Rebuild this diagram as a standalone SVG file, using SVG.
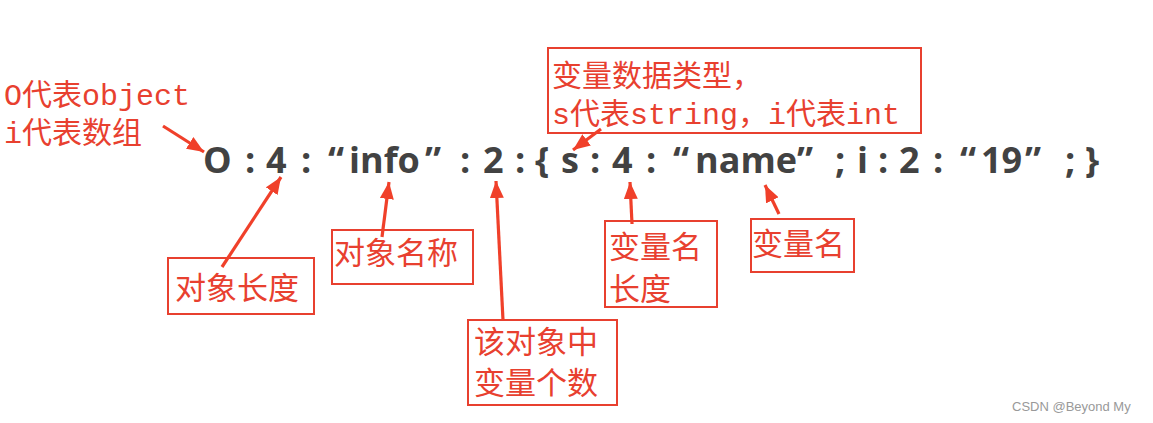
<svg xmlns="http://www.w3.org/2000/svg" width="1153" height="423" viewBox="0 0 1153 423">
<style>
.main{font-family:"Open Sans","Liberation Sans",sans-serif;font-weight:bold;font-size:36px;fill:#424242}
.red{font-family:"Liberation Mono","Noto Sans CJK SC",monospace;font-size:30px;fill:#e8402f}
.lbl{font-family:"Noto Sans CJK SC",sans-serif;font-size:31px;fill:#e8402f}
.box{fill:none;stroke:#e8402f;stroke-width:2}
.arr{stroke:#f0402a;stroke-width:3.2;fill:none;marker-end:url(#ah)}
.wm{font-family:"Liberation Sans",sans-serif;font-size:13px;fill:#999}
</style>
<defs>
<marker id="ah" markerUnits="userSpaceOnUse" markerWidth="18" markerHeight="14" refX="17" refY="7" orient="auto">
<path d="M0,0 L17,7 L0,14 z" fill="#f0402a"/>
</marker>
</defs>
<rect width="1153" height="423" fill="#fff"/>
<g id="formula">
<text class="main" x="203" y="173">O</text>
<text class="main" x="245" y="173">:</text>
<text class="main" x="266" y="173">4</text>
<text class="main" x="301" y="173">:</text>
<text class="main" x="328" y="173">“</text>
<text class="main" x="349" y="173">info</text>
<text class="main" x="425" y="173">”</text>
<text class="main" x="460" y="173">:</text>
<text class="main" x="483" y="173">2</text>
<text class="main" x="515" y="173">:</text>
<text class="main" x="535" y="173">{</text>
<text class="main" x="561" y="173">s</text>
<text class="main" x="590" y="173">:</text>
<text class="main" x="612" y="173">4</text>
<text class="main" x="646" y="173">:</text>
<text class="main" x="673" y="173">“</text>
<text class="main" x="695" y="173">name</text>
<text class="main" x="797" y="173">”</text>
<text class="main" x="835" y="173">;</text>
<text class="main" x="857" y="173">i</text>
<text class="main" x="878" y="173">:</text>
<text class="main" x="899" y="173">2</text>
<text class="main" x="933" y="173">:</text>
<text class="main" x="960" y="173">“</text>
<text class="main" x="981" y="173">19</text>
<text class="main" x="1025" y="173">”</text>
<text class="main" x="1065" y="173">;</text>
<text class="main" x="1085" y="173">}</text>
</g>
<g id="label-object">
<text class="red" x="4" y="105">O代表object<tspan x="4" y="143">i代表数组</tspan></text>
</g>
<g id="label-type">
<rect class="box" x="548" y="48" width="373" height="85"/>
<text class="red" x="552" y="86">变量数据类型，<tspan x="552" y="124">s代表string，i代表int</tspan></text>
</g>
<g id="label-objlen">
<rect class="box" x="168" y="258" width="146" height="56"/>
<text class="lbl" x="175" y="299">对象长度</text>
</g>
<g id="label-objname">
<rect class="box" x="332" y="230" width="141" height="54"/>
<text class="lbl" x="334" y="264">对象名称</text>
</g>
<g id="label-count">
<rect class="box" x="468" y="320" width="149" height="85"/>
<text class="lbl" x="474" y="353">该对象中<tspan x="474" y="394">变量个数</tspan></text>
</g>
<g id="label-varlen">
<rect class="box" x="605" y="221" width="112" height="86"/>
<text class="lbl" x="609" y="258">变量名<tspan x="609" y="300">长度</tspan></text>
</g>
<g id="label-varname">
<rect class="box" x="751" y="219" width="103" height="53"/>
<text class="lbl" x="752" y="255">变量名</text>
</g>
<g id="connectors">
<line class="arr" x1="163" y1="126" x2="204" y2="152"/>
<line class="arr" x1="222" y1="267" x2="281" y2="177"/>
<line class="arr" x1="382" y1="237" x2="389" y2="182"/>
<line class="arr" x1="503" y1="320" x2="496" y2="181"/>
<line class="arr" x1="632" y1="224" x2="630" y2="182"/>
<line class="arr" x1="779" y1="214" x2="765" y2="185"/>
<line class="arr" x1="601" y1="129" x2="573" y2="150"/>
</g>
<text class="wm" x="1012" y="411">CSDN @Beyond My</text>
</svg>
